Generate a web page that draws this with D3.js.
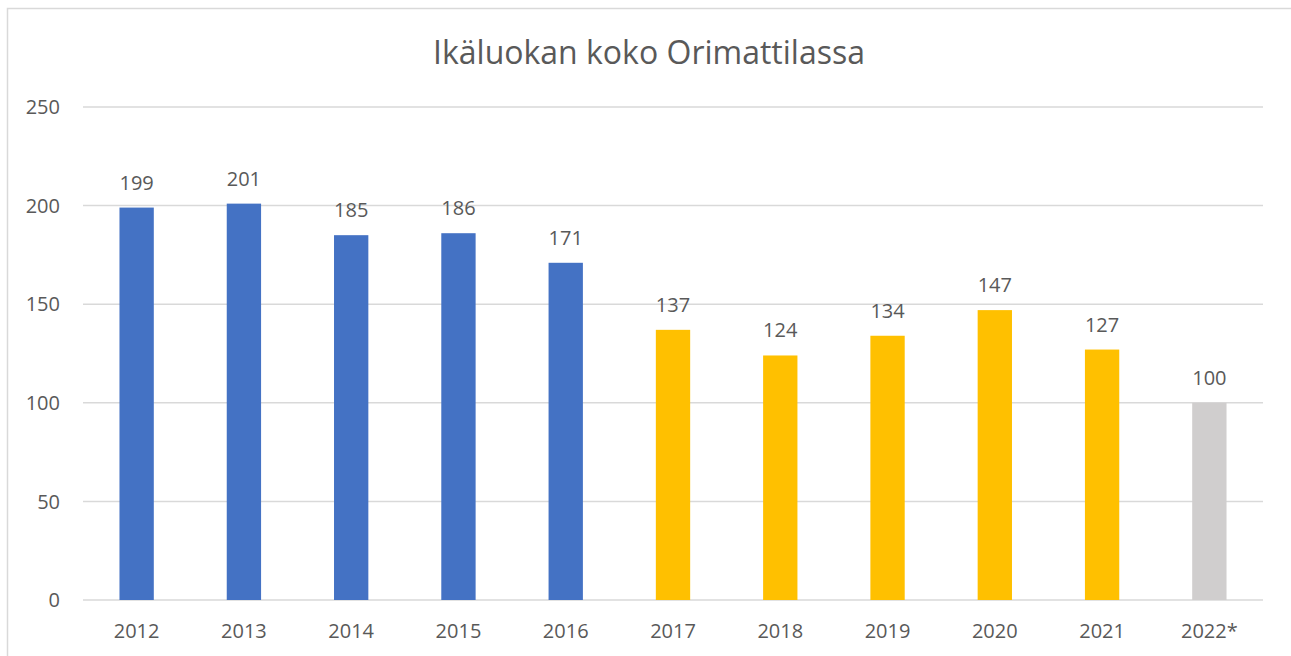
<!DOCTYPE html>
<html>
<head>
<meta charset="utf-8">
<script src="https://cdn.jsdelivr.net/npm/d3@7"></script>
<style>
  body { margin: 0; background: #fff; }
  text { font-family: "Open Sans", "Noto Sans", sans-serif; fill: #595959; }
</style>
</head>
<body>
<div id="chart"></div>
<script>
// Data
const years = ["2012", "2013", "2014", "2015", "2016", "2017", "2018", "2019", "2020", "2021", "2022*"];
const counts = [199, 201, 185, 186, 171, 137, 124, 134, 147, 127, 100];
const groups = ["a", "a", "a", "a", "a", "b", "b", "b", "b", "b", "c"];
const yTicks = [0, 50, 100, 150, 200, 250];

const COLORS = { a: "#4472C4", b: "#FFC000", c: "#D0CECE" };
const GRID = "#D9D9D9";

const W = 1291, H = 656;
const margin = { top: 107, right: 28, bottom: 56, left: 83 };
const width = W - margin.left - margin.right,
  height = H - margin.top - margin.bottom;

const svg = d3.select("#chart").append("svg")
  .attr("width", W)
  .attr("height", H);

// chart frame (right/bottom are outside the picture)
svg.append("rect")
  .attr("x", 7.5).attr("y", 8.5)
  .attr("width", W + 10).attr("height", H + 10)
  .attr("fill", "none")
  .attr("stroke", GRID)
  .attr("stroke-width", 1.5);

svg.append("text")
  .attr("x", 649)
  .attr("y", 64)
  .attr("text-anchor", "middle")
  .attr("font-size", "32px")
  .text("Ikäluokan koko Orimattilassa");

const g = svg.append("g")
  .attr("transform", `translate(${margin.left},${margin.top})`);

const x = d3.scaleBand()
  .domain(years)
  .range([0, width])
  .paddingInner(0.68)
  .paddingOuter(0.34);

const y = d3.scaleLinear()
  .domain([0, 250])
  .range([height, 0]);

// gridlines
g.selectAll(".grid")
  .data(yTicks)
  .enter().append("line")
  .attr("class", "grid")
  .attr("x1", 0).attr("x2", width)
  .attr("y1", d => y(d)).attr("y2", d => y(d))
  .attr("stroke", GRID)
  .attr("stroke-width", 1.5);

// y labels
g.selectAll(".ylab")
  .data(yTicks)
  .enter().append("text")
  .attr("class", "ylab")
  .attr("x", -23)
  .attr("y", d => y(d))
  .attr("dy", "0.36em")
  .attr("text-anchor", "end")
  .attr("font-size", "20px")
  .text(d => d);

// bars
g.selectAll(".bar")
  .data(counts)
  .enter().append("rect")
  .attr("class", "bar")
  .attr("x", (d, i) => x(years[i]))
  .attr("width", x.bandwidth())
  .attr("y", d => y(d))
  .attr("height", d => height - y(d))
  .attr("fill", (d, i) => COLORS[groups[i]]);

// value labels
g.selectAll(".val")
  .data(counts)
  .enter().append("text")
  .attr("class", "val")
  .attr("x", (d, i) => x(years[i]) + x.bandwidth() / 2)
  .attr("y", d => y(d) - 18)
  .attr("text-anchor", "middle")
  .attr("font-size", "20px")
  .text(d => d);

// x labels
g.selectAll(".xlab")
  .data(years)
  .enter().append("text")
  .attr("class", "xlab")
  .attr("x", d => x(d) + x.bandwidth() / 2)
  .attr("y", height + 38)
  .attr("text-anchor", "middle")
  .attr("font-size", "20px")
  .text(d => d);
</script>
</body>
</html>
